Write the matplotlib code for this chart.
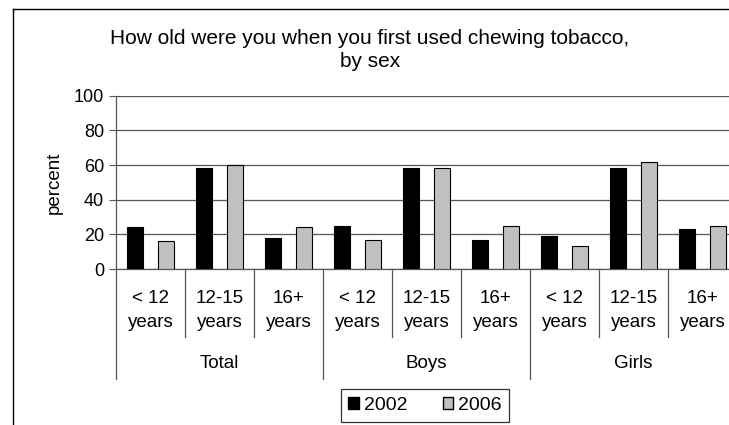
import matplotlib
matplotlib.use("Agg")
import matplotlib.pyplot as plt
from matplotlib.patches import Patch
from matplotlib.lines import Line2D
import numpy as np

plt.rcParams['font.family'] = ['Liberation Sans', 'DejaVu Sans']

groups = ["Total", "Boys", "Girls"]
ages = ["< 12\nyears", "12-15\nyears", "16+\nyears"]
vals_2002 = [24, 58, 18, 25, 58, 17, 19, 58, 23]
vals_2006 = [16, 60, 24, 17, 58, 25, 13, 62, 25]

fig = plt.figure(figsize=(7.29, 4.25), dpi=100)
ax = fig.add_axes([116/729, 1 - 269/425, 621/729, 173.3/425])

x = np.arange(len(vals_2002))
ax.bar(x - 0.22, vals_2002, width=0.23, color="black", edgecolor="black", linewidth=0.8, zorder=3)
ax.bar(x + 0.22, vals_2006, width=0.23, color="#c0c0c0", edgecolor="black", linewidth=0.8, zorder=3)

ax.set_xlim(-0.5, len(x) - 0.5)
ax.set_ylim(0, 100)
ax.set_yticks(range(0, 101, 20))
ax.tick_params(axis="y", labelsize=13, length=5, color="#555555", width=0.8)
ax.set_xticks([])
ax.yaxis.grid(True, color="#555555", linewidth=0.9, zorder=0)
for s in ["top", "right"]:
    ax.spines[s].set_visible(False)
for s in ["left", "bottom"]:
    ax.spines[s].set_color("#555555")
    ax.spines[s].set_linewidth(0.9)
ax.set_ylabel("percent", fontsize=13.5, labelpad=8)

# category axis
tr = ax.get_xaxis_transform()
for i in range(len(x) + 1):
    y_end = -0.635 if i % 3 == 0 else -0.392
    ax.plot([i - 0.5, i - 0.5], [0, y_end], transform=tr, color="#555555",
            linewidth=0.9, clip_on=False)
for i in range(len(x)):
    ax.text(i, -0.24, ages[i % 3], transform=tr, ha="center", va="center",
            fontsize=13.5, linespacing=1.5)
for g, name in enumerate(groups):
    ax.text(3 * g + 1, -0.548, name, transform=tr, ha="center", va="center", fontsize=13.5)

fig.text(370/729, 1 - 50/425, "How old were you when you first used chewing tobacco,\nby sex",
         ha="center", va="center", fontsize=15, linespacing=1.25)

handles = [Patch(facecolor="black", edgecolor="black", label="2002"),
           Patch(facecolor="#c0c0c0", edgecolor="black", label="2006")]
leg = fig.legend(handles=handles, loc="center", bbox_to_anchor=(425/729, 1 - 405.5/425), ncol=2,
                 fontsize=14, frameon=True, fancybox=False, handlelength=0.55, handleheight=0.55,
                 handletextpad=0.25, columnspacing=1.8, borderpad=0.4, borderaxespad=0)
leg.get_frame().set_edgecolor("black")
leg.get_frame().set_linewidth(0.9)

# outer chart border (only left and top visible)
fig.add_artist(Line2D([13/729, 13/729], [0, 1 - 9/425], transform=fig.transFigure, color="black", linewidth=1))
fig.add_artist(Line2D([13/729, 1], [1 - 9/425, 1 - 9/425], transform=fig.transFigure, color="black", linewidth=1))

fig.savefig("out.png", dpi=100)
